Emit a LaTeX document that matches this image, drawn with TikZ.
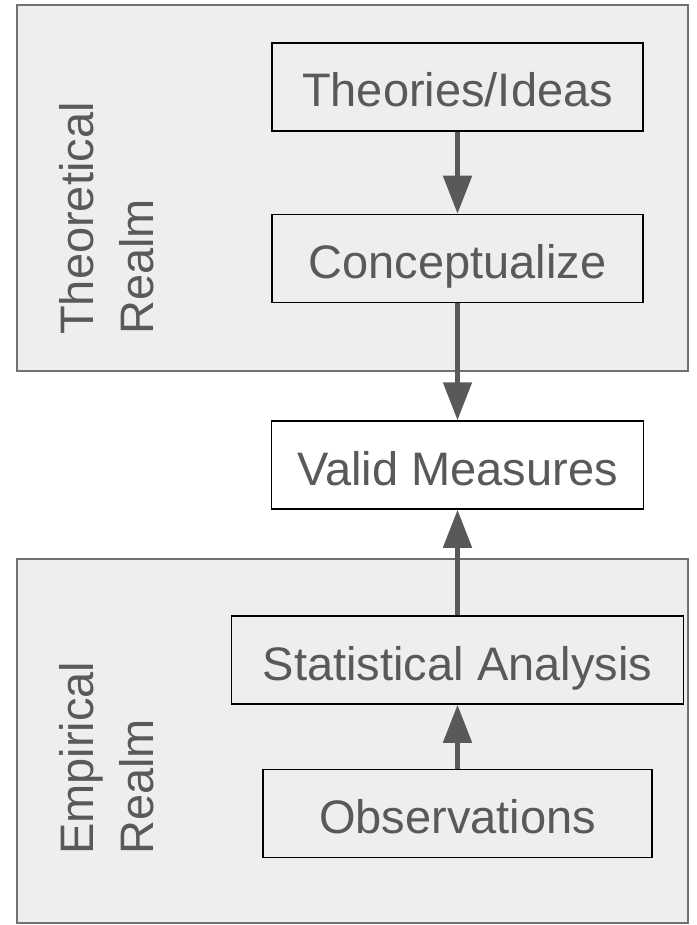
\documentclass[tikz,border=0pt]{standalone}
\usepackage{fontspec}
\setmainfont{Liberation Sans}
\usetikzlibrary{arrows.meta}
\definecolor{ink}{HTML}{595959}
\definecolor{realmfill}{HTML}{EEEEEE}
\definecolor{realmline}{HTML}{707070}
\begin{document}
\begin{tikzpicture}[x=1pt,y=-1pt,
  realm/.style={rectangle, draw=realmline, fill=realmfill, line width=1.5pt, inner sep=0pt},
  stepbox/.style={rectangle, draw=black, line width=1.5pt, inner sep=0pt,
    minimum height=88pt, text height=40pt, text depth=0pt, text=ink,
    font=\fontsize{47}{56}\selectfont},
  side/.style={rotate=90, anchor=base west, inner sep=0pt, text=ink,
    font=\fontsize{47}{56}\selectfont},
  flow/.style={draw=ink, line width=5pt, -{Triangle[width=28pt,length=38pt]}}]
  \useasboundingbox (0,0) rectangle (696,925);

  % the two realms
  \node[realm, minimum width=671pt, minimum height=366pt] (theo) at (352.5,188) {};
  \node[realm, minimum width=671pt, minimum height=364pt] (emp) at (352.5,741) {};

  % realm labels
  \node[side] (theoA) at (93,335) {Theoretical};
  \node[side] (theoB) at (153,335) {Realm};
  \node[side] (empA) at (93,855) {Empirical};
  \node[side] (empB) at (153,855) {Realm};

  % steps
  \node[stepbox, minimum width=371pt] (ideas) at (457.5,87) {Theories/Ideas};
  \node[stepbox, minimum width=371pt] (concept) at (457.5,258.5) {Conceptualize};
  \node[stepbox, minimum width=372pt, fill=white] (valid) at (457.5,465) {Valid Measures};
  \node[stepbox, minimum width=452pt] (stats) at (457.5,660) {Statistical Analysis};
  \node[stepbox, minimum width=389pt] (obs) at (457.5,813.5) {Observations};

  % flow
  \draw[flow] (ideas.south) -- (concept.north);
  \draw[flow] (concept.south) -- (valid.north);
  \draw[flow] (stats.north) -- (valid.south);
  \draw[flow] (obs.north) -- (stats.south);
\end{tikzpicture}
\end{document}
